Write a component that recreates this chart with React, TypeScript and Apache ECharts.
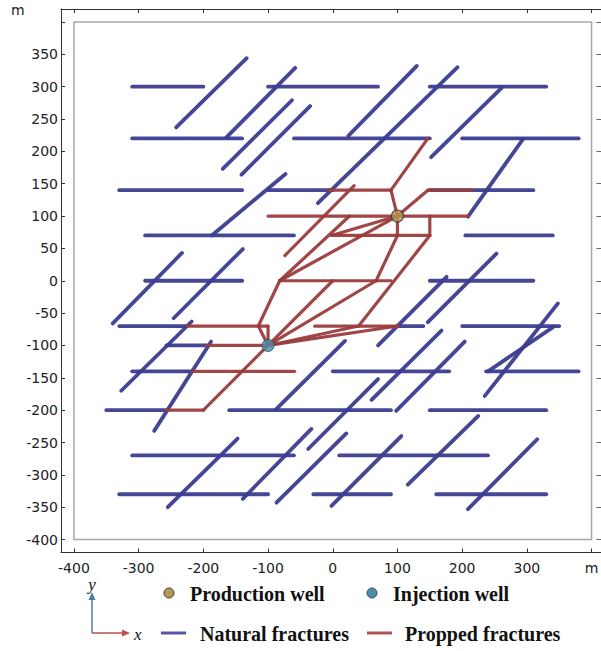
import React, { useEffect, useRef } from "react";
import * as echarts from "echarts";

// ---------- data ----------
const xTickValues = [-400, -300, -200, -100, 0, 100, 200, 300, 400];
const yTickValues = [-400, -350, -300, -250, -200, -150, -100, -50, 0, 50, 100, 150, 200, 250, 300, 350, 400];
const yLabelValues = [-400, -350, -300, -250, -200, -150, -100, -50, 0, 50, 100, 150, 200, 250, 300, 350];
const domainBox = [[-400, -400, 400, 400]];

// natural fractures: [x1, y1, x2, y2]
const naturalHorizontal = [
  [-310, 300, -200, 300], [-100, 300, 70, 300], [150, 300, 330, 300],
  [-310, 220, -140, 220], [-60, 220, 150, 220], [200, 220, 380, 220],
  [-330, 140, -140, 140], [-100, 140, 0, 140], [150, 140, 310, 140],
  [-290, 70, -60, 70], [205, 70, 340, 70],
  [-290, 0, -140, 0], [150, 0, 310, 0],
  [-330, -70, -225, -70], [100, -70, 140, -70], [200, -70, 350, -70],
  [-257, -100, -195, -100],
  [-310, -140, -218, -140], [0, -140, 180, -140], [237, -140, 380, -140],
  [-350, -200, -257, -200], [-160, -200, 90, -200], [150, -200, 330, -200],
  [-310, -270, -60, -270], [10, -270, 240, -270],
  [-330, -330, -100, -330], [-30, -330, 90, -330], [160, -330, 330, -330],
];
const naturalDiagonal = [
  [-242, 237, -133, 344], [-164, 222, -58, 329], [-170, 173, -63, 279], [-141, 164, -35, 270],
  [-187, 70, -73, 165], [-23, 120, 193, 330], [24, 224, 130, 332], [152, 191, 261, 298],
  [209, 99, 294, 219], [-340, -66, -233, 43], [-246, -58, -139, 49], [-327, -170, -218, -63],
  [-276, -232, -188, -94], [-255, -350, -147, -244], [-139, -337, -33, -229], [-87, -343, 21, -236],
  [-87, -198, 19, -93], [-38, -260, 70, -152], [60, -184, 168, -77], [70, -100, 176, 6],
  [147, -64, 253, 42], [98, -201, 204, -94], [-2, -348, 106, -240], [116, -315, 225, -209],
  [209, -353, 316, -245], [235, -178, 348, -35], [240, -140, 340, -72],
];
const proppedFractures = [
  [-100, 100, 210, 100], [-6, 140, 90, 140], [147, 220, 90, 140], [90, 140, 100, 100],
  [100, 100, 147, 140], [147, 140, 215, 140], [0, 70, 150, 70], [150, 100, 150, 70],
  [100, 100, 100, 70], [100, 70, 67, 0], [150, 70, 40, -70], [33, 147, -74, 39],
  [100, 100, -2, 70], [100, 100, -82, 0], [-82, 0, 26, 100], [-82, 0, 90, 0], [-82, 0, -115, -70],
  [-115, -70, -100, -70], [-100, -70, -100, -100], [-115, -70, -100, -100],
  [-100, -100, 0, 0], [-100, -100, 67, 0], [-100, -100, 40, -70], [-100, -100, 101, -70],
  [-28, -70, 101, -70], [-100, -100, -200, -200], [-200, -200, -257, -200],
  [-100, -100, -195, -100], [-218, -140, -59, -140], [-225, -70, -115, -70],
];
const productionWell = [[100, 100]];
const injectionWell = [[-100, -100]];

const NAT = "#3c3c90";
const PROP = "#9b3c3c";

function segSeries(name: string, data: number[][], color: string, width: number) {
  return {
    type: "custom",
    name,
    data,
    encode: { x: [0, 2], y: [1, 3] },
    renderItem: (_p: any, api: any) => {
      const a = api.coord([api.value(0), api.value(1)]);
      const b = api.coord([api.value(2), api.value(3)]);
      return {
        type: "line",
        shape: { x1: a[0], y1: a[1], x2: b[0], y2: b[1] },
        style: { stroke: color, lineWidth: width, lineCap: "round", opacity: 0.95 },
      };
    },
    z: 2,
  };
}

export default function App() {
  const ref = useRef<HTMLDivElement>(null);
  useEffect(() => {
    if (!ref.current) return;
    const chart = echarts.init(ref.current, undefined, { renderer: "svg" });
    const labelStyle = { fontFamily: "DejaVu Sans", fontSize: 14, color: "#222" };
    const legendFont = "'Liberation Serif', 'Times New Roman', serif";
    const axisLine = { show: true, onZero: false, lineStyle: { color: "#333", width: 1 } };
    chart.setOption({
      animation: false,
      backgroundColor: "#fff",
      grid: { left: 61, top: 9, width: 543.5, height: 543.5, containLabel: false, outerBoundsMode: "none" },
      xAxis: [
        {
          type: "value", min: -420, max: 420, position: "bottom",
          axisLine,
          axisTick: { show: true, inside: true, length: 4, customValues: xTickValues, lineStyle: { color: "#333" } },
          axisLabel: { ...labelStyle, margin: 8, customValues: xTickValues, formatter: (v: number) => (v === 400 ? "m" : String(v)) },
          splitLine: { show: false },
        },
        {
          type: "value", min: -420, max: 420, position: "top",
          axisLine,
          axisTick: { show: true, inside: true, length: 4, customValues: xTickValues, lineStyle: { color: "#333" } },
          axisLabel: { show: false },
          splitLine: { show: false },
        },
      ],
      yAxis: [
        {
          type: "value", min: -420, max: 420, position: "left",
          axisLine,
          axisTick: { show: true, inside: true, length: 4, customValues: yTickValues, lineStyle: { color: "#333" } },
          axisLabel: { ...labelStyle, margin: 3, customValues: yLabelValues },
          splitLine: { show: false },
        },
        {
          type: "value", min: -420, max: 420, position: "right",
          axisLine: { show: false, onZero: false },
          axisTick: { show: true, inside: true, length: 8, customValues: yTickValues, lineStyle: { color: "#666" } },
          axisLabel: { show: false },
          splitLine: { show: false },
        },
      ],
      series: [
        {
          type: "custom",
          name: "domain",
          data: domainBox,
          encode: { x: [0, 2], y: [1, 3] },
          renderItem: (_p: any, api: any) => {
            const a = api.coord([api.value(0), api.value(3)]);
            const b = api.coord([api.value(2), api.value(1)]);
            return {
              type: "rect",
              shape: { x: a[0], y: a[1], width: b[0] - a[0], height: b[1] - a[1] },
              style: { fill: "none", stroke: "#a8a8a8", lineWidth: 1.5 },
            };
          },
          z: 1,
        },
        segSeries("Natural fractures", naturalHorizontal, NAT, 3.8),
        segSeries("Natural fractures", naturalDiagonal, NAT, 3.8),
        segSeries("Propped fractures", proppedFractures, PROP, 3.2),
        {
          type: "scatter", name: "Production well", data: productionWell, symbolSize: 12,
          itemStyle: { color: "#b59a4e", borderColor: "#2f3540", borderWidth: 1.2 }, z: 5,
        },
        {
          type: "scatter", name: "Injection well", data: injectionWell, symbolSize: 12,
          itemStyle: { color: "#4b8da6", borderColor: "#2f4f60", borderWidth: 1 }, z: 5,
        },
      ],
      graphic: [
        { type: "text", left: 11, top: 3, style: { text: "m", fontFamily: "DejaVu Sans", fontSize: 14, fill: "#222" } },
        // coordinate icon
        { type: "line", shape: { x1: 92, y1: 633, x2: 92, y2: 598 }, style: { stroke: "#4a7ea6", lineWidth: 1.5 } },
        { type: "polygon", shape: { points: [[88.5, 600], [92, 592], [95.5, 600]] }, style: { fill: "#4a7ea6" } },
        { type: "line", shape: { x1: 92, y1: 633, x2: 124, y2: 633 }, style: { stroke: "#c0504d", lineWidth: 1.5 } },
        { type: "polygon", shape: { points: [[122, 629.5], [130, 633], [122, 636.5]] }, style: { fill: "#c0504d" } },
        { type: "text", x: 92, y: 584, style: { text: "y", fontFamily: legendFont, fontStyle: "italic", fontSize: 17, fill: "#111", align: "center", verticalAlign: "middle" } },
        { type: "text", x: 134, y: 634, style: { text: "x", fontFamily: legendFont, fontStyle: "italic", fontSize: 17, fill: "#111", align: "left", verticalAlign: "middle" } },
        // legend row 1
        { type: "circle", shape: { cx: 169, cy: 593, r: 5 }, style: { fill: "#b59a4e", stroke: "#2f3540", lineWidth: 1 } },
        { type: "text", x: 190, y: 594, style: { text: "Production well", fontFamily: legendFont, fontWeight: "bold", fontSize: 20, fill: "#111", verticalAlign: "middle" } },
        { type: "circle", shape: { cx: 372, cy: 593, r: 5 }, style: { fill: "#4b8da6", stroke: "#2f4f60", lineWidth: 1 } },
        { type: "text", x: 393, y: 594, style: { text: "Injection well", fontFamily: legendFont, fontWeight: "bold", fontSize: 20, fill: "#111", verticalAlign: "middle" } },
        // legend row 2
        { type: "line", shape: { x1: 161, y1: 633, x2: 186, y2: 633 }, style: { stroke: "#5555a8", lineWidth: 3 } },
        { type: "text", x: 200, y: 634, style: { text: "Natural fractures", fontFamily: legendFont, fontWeight: "bold", fontSize: 20, fill: "#111", verticalAlign: "middle" } },
        { type: "line", shape: { x1: 367, y1: 633, x2: 392, y2: 633 }, style: { stroke: "#b05454", lineWidth: 3 } },
        { type: "text", x: 405, y: 634, style: { text: "Propped fractures", fontFamily: legendFont, fontWeight: "bold", fontSize: 20, fill: "#111", verticalAlign: "middle" } },
      ],
    });
    return () => chart.dispose();
  }, []);
  return <div ref={ref} style={{ width: 601, height: 651, position: "absolute", left: 0, top: 0 }} />;
}
